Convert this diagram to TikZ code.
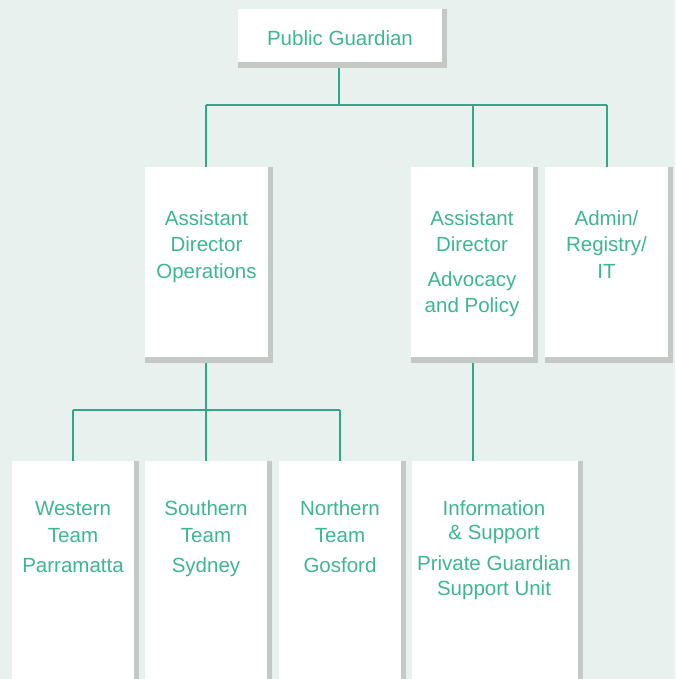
\documentclass[tikz,border=0pt]{standalone}
\usepackage{fontspec}
\setmainfont{Liberation Sans}
\definecolor{bgc}{HTML}{E8F1EE}
\definecolor{linec}{HTML}{2EA886}
\definecolor{txtc}{HTML}{3FB593}
\definecolor{shadc}{HTML}{C4C9C6}
\tikzset{
  orgbox/.style={fill=white, draw=none},
  shadowbox/.style={fill=shadc, draw=none},
  lbl/.style={anchor=base, inner sep=0pt, text=txtc, font=\fontsize{20.5}{24}\selectfont},
  conn/.style={draw=linec, line width=1.3pt}
}
\newcommand{\orgrect}[5]{% name, x0, y0, x1, y1
  \fill[shadowbox] (#2,#3) rectangle (#4+5,#5+6);
  \path[orgbox] (#2,#3) rectangle (#4,#5);
  \coordinate (#1-nw) at (#2,#3);
  \coordinate (#1-se) at (#4,#5);
  \coordinate (#1-top) at ({(#2+#4)/2},#3);
  \coordinate (#1-bot) at ({(#2+#4)/2},#5);
}
\begin{document}
\begin{tikzpicture}[x=1pt,y=-1pt]
\useasboundingbox (0,0) rectangle (675,679);
\fill[bgc] (0,0) rectangle (675,679);
\clip (0,0) rectangle (675,679);

% connectors first (behind boxes)
\coordinate (pgb) at (339,62);
\coordinate (j1) at (339,105);
\coordinate (j1l) at (206,105);
\coordinate (j1m) at (473,105);
\coordinate (j1r) at (607,105);
\coordinate (opb) at (206,357);
\coordinate (j2) at (206,410);
\coordinate (j2l) at (73,410);
\coordinate (j2r) at (340,410);
\coordinate (adb) at (473,357);

\draw[conn] (pgb) -- (j1);
\draw[conn] (j1l) -- (j1r);
\draw[conn] (j1l) -- (206,167);
\draw[conn] (j1m) -- (473,167);
\draw[conn] (j1r) -- (607,167);
\draw[conn] (opb) -- (j2);
\draw[conn] (j2l) -- (j2r);
\draw[conn] (j2l) -- (73,461);
\draw[conn] (j2) -- (206,461);
\draw[conn] (j2r) -- (340,461);
\draw[conn] (adb) -- (473,461);

% boxes
\orgrect{pg}{238}{9}{442}{62}
\orgrect{op}{145}{167}{268}{357}
\orgrect{ad}{411}{167}{533}{357}
\orgrect{it}{545}{167}{668}{357}
\orgrect{we}{12}{461}{134}{700}
\orgrect{so}{145}{461}{267}{700}
\orgrect{no}{279}{461}{401}{700}
\orgrect{in}{412}{461}{578}{700}

% labels
\node[lbl] (tpg) at (340,45.7) {Public Guardian};

\node[lbl] (top1) at (206.5,225) {Assistant};
\node[lbl] (top2) at (206.5,251.7) {Director};
\node[lbl] (top3) at (206.5,278.3) {Operations};

\node[lbl] (tad1) at (472,225) {Assistant};
\node[lbl] (tad2) at (472,251.7) {Director};
\node[lbl] (tad3) at (472,286.7) {Advocacy};
\node[lbl] (tad4) at (472,312.7) {and Policy};

\node[lbl] (tit1) at (606.5,225) {Admin/};
\node[lbl] (tit2) at (606.5,251.7) {Registry/};
\node[lbl] (tit3) at (606.5,278.3) {IT};

\node[lbl] (twe1) at (73,515) {Western};
\node[lbl] (twe2) at (73,542.3) {Team};
\node[lbl] (twe3) at (73,572.7) {Parramatta};

\node[lbl] (tso1) at (206,515) {Southern};
\node[lbl] (tso2) at (206,542.3) {Team};
\node[lbl] (tso3) at (206,572.7) {Sydney};

\node[lbl] (tno1) at (340,515) {Northern};
\node[lbl] (tno2) at (340,542.3) {Team};
\node[lbl] (tno3) at (340,572.7) {Gosford};

\node[lbl] (tin1) at (494,515) {Information};
\node[lbl] (tin2) at (494,539.3) {\& Support};
\node[lbl] (tin3) at (494,570.3) {Private Guardian};
\node[lbl] (tin4) at (494,595) {Support Unit};
\end{tikzpicture}
\end{document}
